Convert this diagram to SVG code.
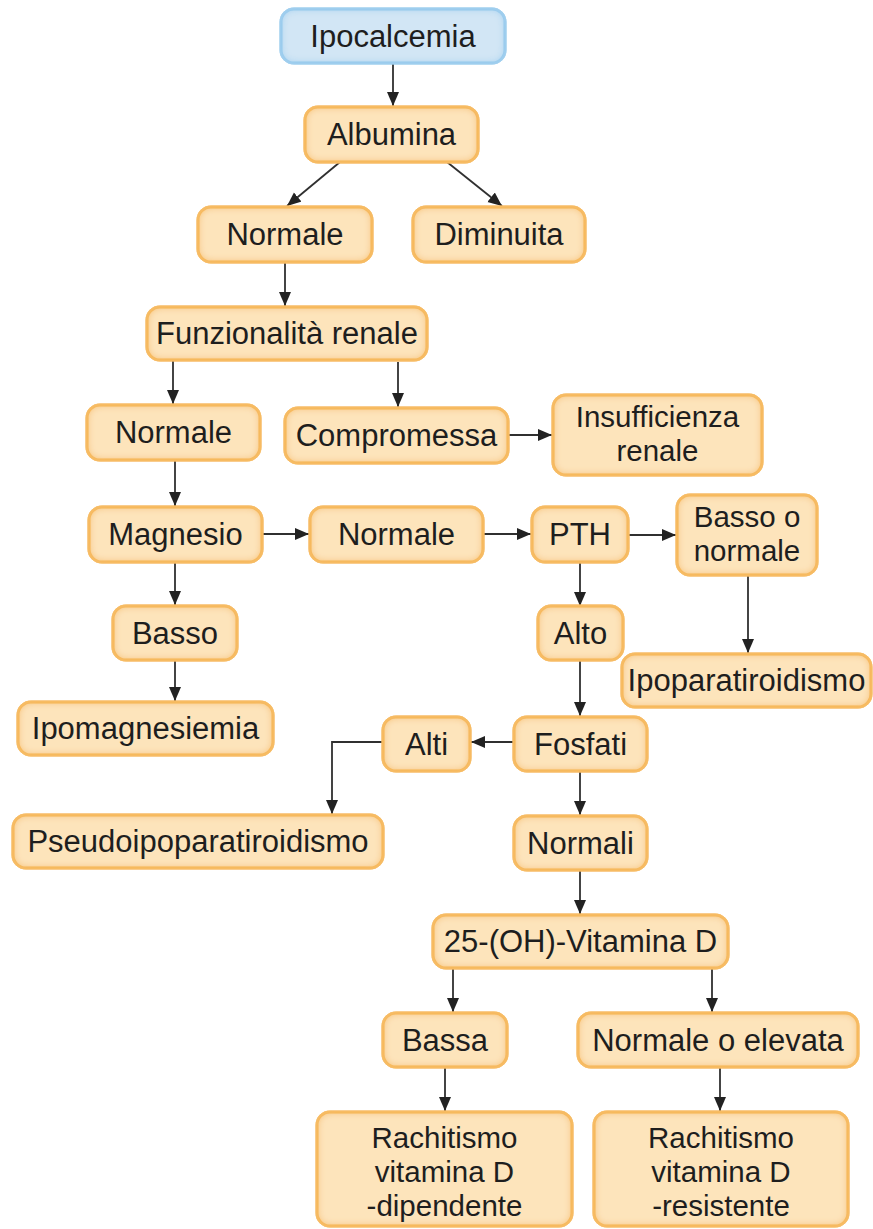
<svg xmlns="http://www.w3.org/2000/svg" width="873" height="1229" viewBox="0 0 873 1229">
<defs>
<style>
.box{fill:#fde4bb;stroke:#f6b24f;stroke-width:3;filter:url(#ig)}
.blue{fill:#d2e6f5;stroke:#8ec5ea;stroke-width:3;filter:url(#igb)}
text{font-family:"Liberation Sans",Arial,Helvetica,sans-serif;font-size:31px;fill:#1e1e1e;text-anchor:middle}
text.ml{font-size:29.5px}
.cn line,.cn polyline{stroke:#303030;stroke-width:1.8;fill:none;marker-end:url(#ah)}
</style>
<marker id="ah" markerUnits="userSpaceOnUse" markerWidth="14" markerHeight="13" viewBox="0 0 14 13" refX="14" refY="6.5" orient="auto">
<path d="M0,0.5 L14,6.5 L0,12.5 z" fill="#222"/>
</marker>
<filter id="ig" x="-5%" y="-10%" width="110%" height="120%">
<feGaussianBlur in="SourceAlpha" stdDeviation="4" result="b"/>
<feComposite in="SourceAlpha" in2="b" operator="out" result="e"/>
<feFlood flood-color="#f7bf6c"/>
<feComposite in2="e" operator="in" result="ce"/>
<feMerge><feMergeNode in="SourceGraphic"/><feMergeNode in="ce"/><feMergeNode in="ce"/></feMerge>
</filter>
<filter id="igb" x="-5%" y="-10%" width="110%" height="120%">
<feGaussianBlur in="SourceAlpha" stdDeviation="4" result="b"/>
<feComposite in="SourceAlpha" in2="b" operator="out" result="e"/>
<feFlood flood-color="#a6d2f0"/>
<feComposite in2="e" operator="in" result="ce"/>
<feMerge><feMergeNode in="SourceGraphic"/><feMergeNode in="ce"/><feMergeNode in="ce"/></feMerge>
</filter>
</defs>
<rect width="873" height="1229" fill="#ffffff"/>

<g class="cn" id="connectors">
<line x1="393" y1="63" x2="393" y2="106"/>
<line x1="340" y1="162" x2="287" y2="206"/>
<line x1="447" y1="162" x2="502" y2="206"/>
<line x1="285" y1="262" x2="285" y2="306"/>
<line x1="173" y1="360" x2="173" y2="404"/>
<line x1="398" y1="362" x2="398" y2="407"/>
<line x1="508" y1="435" x2="552" y2="435"/>
<line x1="175" y1="460" x2="175" y2="506"/>
<line x1="263" y1="534" x2="309" y2="534"/>
<line x1="483" y1="534" x2="531" y2="534"/>
<line x1="628" y1="535" x2="676" y2="535"/>
<line x1="580" y1="562" x2="580" y2="606"/>
<line x1="748" y1="575" x2="748" y2="653"/>
<line x1="175" y1="562" x2="175" y2="605"/>
<line x1="175" y1="660" x2="175" y2="701"/>
<line x1="580" y1="660" x2="580" y2="716"/>
<line x1="514" y1="742" x2="471" y2="742"/>
<polyline points="383,742 332,742 332,814"/>
<line x1="580" y1="771" x2="580" y2="815"/>
<line x1="580" y1="870" x2="580" y2="914"/>
<line x1="453" y1="968" x2="453" y2="1012"/>
<line x1="712" y1="968" x2="712" y2="1012"/>
<line x1="445" y1="1067" x2="445" y2="1111"/>
<line x1="720" y1="1067" x2="720" y2="1111"/>
</g>

<g id="n-ipocalcemia"><rect class="blue" x="281" y="9" width="224" height="54" rx="13"/><text x="393" y="47">Ipocalcemia</text></g>
<g id="n-albumina"><rect class="box" x="305" y="107" width="173" height="55" rx="13"/><text x="391.5" y="145">Albumina</text></g>
<g id="n-normale1"><rect class="box" x="198" y="207" width="174" height="55" rx="13"/><text x="285" y="245">Normale</text></g>
<g id="n-diminuita"><rect class="box" x="413" y="207" width="172" height="55" rx="13"/><text x="499" y="245">Diminuita</text></g>
<g id="n-funzionalita"><rect class="box" x="147" y="307" width="280" height="53" rx="13"/><text x="287" y="344">Funzionalità renale</text></g>
<g id="n-normale2"><rect class="box" x="87" y="405" width="173" height="55" rx="13"/><text x="173.5" y="443">Normale</text></g>
<g id="n-compromessa"><rect class="box" x="285" y="408" width="223" height="55" rx="13"/><text x="396.5" y="446">Compromessa</text></g>
<g id="n-insufficienza"><rect class="box" x="553" y="395" width="209" height="80" rx="13"/><text class="ml" x="657.5" y="427">Insufficienza</text><text class="ml" x="657.5" y="461">renale</text></g>
<g id="n-magnesio"><rect class="box" x="89" y="507" width="173" height="55" rx="13"/><text x="175.5" y="545">Magnesio</text></g>
<g id="n-normale3"><rect class="box" x="310" y="507" width="173" height="55" rx="13"/><text x="396.5" y="545">Normale</text></g>
<g id="n-pth"><rect class="box" x="532" y="507" width="96" height="55" rx="13"/><text x="580" y="545">PTH</text></g>
<g id="n-bassoonormale"><rect class="box" x="677" y="495" width="140" height="80" rx="13"/><text class="ml" x="747" y="527">Basso o</text><text class="ml" x="747" y="561">normale</text></g>
<g id="n-basso"><rect class="box" x="113" y="606" width="124" height="54" rx="13"/><text x="175" y="644">Basso</text></g>
<g id="n-alto"><rect class="box" x="538" y="606" width="85" height="54" rx="13"/><text x="580.5" y="644">Alto</text></g>
<g id="n-ipoparatiroidismo"><rect class="box" x="622" y="654" width="249" height="53" rx="13"/><text x="746.5" y="691">Ipoparatiroidismo</text></g>
<g id="n-ipomagnesiemia"><rect class="box" x="18" y="702" width="255" height="53" rx="13"/><text x="145.5" y="739">Ipomagnesiemia</text></g>
<g id="n-alti"><rect class="box" x="383" y="717" width="87" height="54" rx="13"/><text x="426.5" y="755">Alti</text></g>
<g id="n-fosfati"><rect class="box" x="514" y="717" width="133" height="54" rx="13"/><text x="580.5" y="755">Fosfati</text></g>
<g id="n-pseudo"><rect class="box" x="13" y="815" width="370" height="53" rx="13"/><text x="198" y="852">Pseudoipoparatiroidismo</text></g>
<g id="n-normali"><rect class="box" x="514" y="816" width="133" height="54" rx="13"/><text x="580.5" y="854">Normali</text></g>
<g id="n-vitd"><rect class="box" x="433" y="915" width="295" height="53" rx="13"/><text x="580.5" y="952">25-(OH)-Vitamina D</text></g>
<g id="n-bassa"><rect class="box" x="383" y="1013" width="124" height="54" rx="13"/><text x="445" y="1051">Bassa</text></g>
<g id="n-normaleoelevata"><rect class="box" x="578" y="1013" width="280" height="54" rx="13"/><text x="718" y="1051">Normale o elevata</text></g>
<g id="n-rach-dip"><rect class="box" x="317" y="1112" width="255" height="114" rx="13"/><text class="ml" x="444.5" y="1148">Rachitismo</text><text class="ml" x="444.5" y="1182">vitamina D</text><text class="ml" x="444.5" y="1216">-dipendente</text></g>
<g id="n-rach-res"><rect class="box" x="594" y="1112" width="254" height="114" rx="13"/><text class="ml" x="721" y="1148">Rachitismo</text><text class="ml" x="721" y="1182">vitamina D</text><text class="ml" x="721" y="1216">-resistente</text></g>
</svg>
